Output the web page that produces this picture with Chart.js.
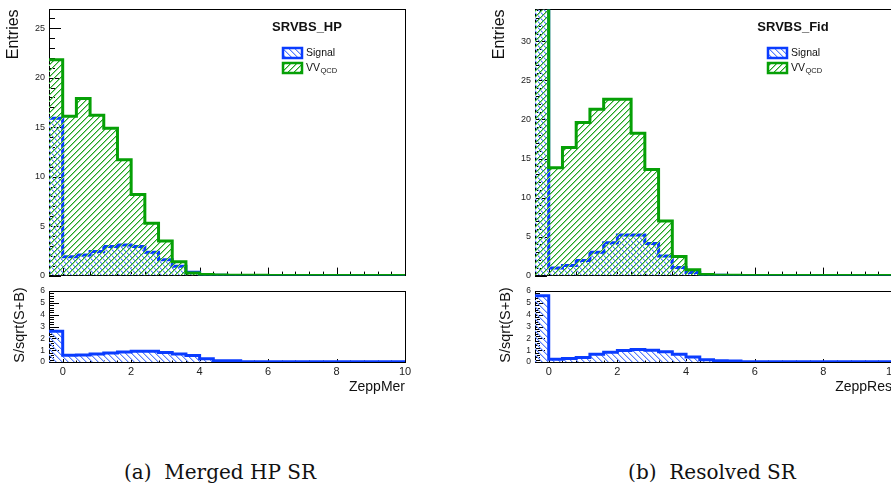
<!DOCTYPE html>
<html>
<head>
<meta charset="utf-8">
<script src="https://cdn.jsdelivr.net/npm/chart.js@4.4.0/dist/chart.umd.min.js"></script>
<style>
html, body { margin: 0; padding: 0; background: #fff; width: 891px; height: 488px; overflow: hidden; }
.pad { position: absolute; }
.caption { position: absolute; top: 460px; font-family: "DejaVu Serif", "Liberation Serif", serif; font-size: 20px; line-height: 24px; color: #111; white-space: pre; transform: translateX(-50%); }
</style>
</head>
<body>
<div class="pad" style="left:0;top:0"><canvas id="merMain" width="420" height="285"></canvas></div>
<div class="pad" style="left:0;top:282px"><canvas id="merRatio" width="420" height="118"></canvas></div>
<div class="pad" style="left:486px;top:0"><canvas id="resMain" width="420" height="285"></canvas></div>
<div class="pad" style="left:486px;top:282px"><canvas id="resRatio" width="420" height="118"></canvas></div>
<div class="caption" style="left:220px">(a)  Merged HP SR</div>
<div class="caption" style="left:712px">(b)  Resolved SR</div>
<script>
// bin edges (width 0.4) shared by every histogram
const binEdges = [-0.4, 0, 0.4, 0.8, 1.2, 1.6, 2, 2.4, 2.8, 3.2, 3.6, 4, 4.4, 4.8, 5.2, 5.6, 6, 6.4, 6.8, 7.2, 7.6, 8, 8.4, 8.8, 9.2, 9.6, 10]

// Merged HP SR
const sigMer = [15.9, 1.9, 2.07, 2.44, 2.94, 3.1, 2.94, 2.37, 1.6, 0.94, 0.33, 0.06, 0.03, 0.02, 0.01, 0.01, 0.01, 0, 0, 0, 0, 0, 0, 0, 0, 0]
const vvMer = [21.8, 16.1, 17.9, 16.2, 14.9, 11.7, 8.2, 5.3, 3.5, 1.4, 0.27, 0.1, 0.05, 0.04, 0.03, 0.03, 0.02, 0.02, 0.02, 0.01, 0.01, 0.01, 0.01, 0.01, 0.01, 0.01]
const ratioMer = [2.6, 0.57, 0.6, 0.68, 0.77, 0.85, 0.9, 0.9, 0.8, 0.68, 0.54, 0.27, 0.1, 0.1, 0.02, 0.02, 0.02, 0.02, 0.02, 0.02, 0.02, 0.02, 0.02, 0.02, 0.02, 0.02]

// Resolved SR (first bin goes above the frame)
const sigRes = [60, 0.97, 1.3, 1.95, 3.0, 4.2, 5.2, 5.2, 4.1, 2.5, 1.05, 0.4, 0.1, 0.03, 0.02, 0.01, 0, 0, 0, 0, 0, 0, 0, 0, 0, 0]
const vvRes = [58, 13.8, 16.4, 19.6, 21.3, 22.6, 22.6, 18.25, 13.6, 7.0, 2.45, 0.76, 0.13, 0.05, 0.03, 0.02, 0.02, 0.01, 0.01, 0.01, 0.01, 0.01, 0.01, 0.01, 0.01, 0.01]
const ratioRes = [5.6, 0.23, 0.3, 0.38, 0.65, 0.83, 0.97, 1.06, 1.0, 0.86, 0.65, 0.42, 0.2, 0.1, 0.08, 0.02, 0.02, 0.02, 0.02, 0.02, 0.02, 0.02, 0.02, 0.02, 0.02, 0.02]

const FONT = '"Liberation Sans", Arial, sans-serif'
const BLUE = '#0a3cff'
const GREEN = '#06a006'
// hatch colours: [core pixel, soft neighbour]
const BLUE_HATCH = ['#5a80ff', '#b8c8ff']
const GREEN_HATCH = ['#1fa51f', '#98d498']

function steps(vals){
    // one point per left edge, plus the closing right edge
    const pts = vals.map((v, i) => ({x: binEdges[i], y: v}))
    pts.push({x: binEdges[binEdges.length - 1], y: vals[vals.length - 1]})
    return pts
}

// two-pixel diagonal hatch, "/" or "\"
function hatch(ctx, colors, dir){
    const s = 6
    const c = document.createElement("canvas")
    c.width = s; c.height = s
    const g = c.getContext("2d")
    for (let i = 0; i < s; i++) {
        const y = dir === "/" ? s - 1 - i : i
        g.fillStyle = colors[1]
        g.fillRect((i + 1) % s, y, 1, 1)
        g.fillStyle = colors[0]
        g.fillRect(i, y, 1, 1)
    }
    return ctx.createPattern(c, "repeat")
}

// ROOT-like frame with inside tick marks
const rootFrame = {
    id: "rootFrame",
    beforeDatasetsDraw(chart, args, o){
        const {ctx, chartArea: a, scales: {x, y}} = chart
        ctx.save()
        ctx.strokeStyle = "#000"
        ctx.lineWidth = 1
        ctx.beginPath()
        let n = Math.round((x.max - x.min) / o.xMinor)
        for (let i = 0; i <= n; i++) {
            const v = x.min + i * o.xMinor
            const major = Math.abs(v / o.xMajor - Math.round(v / o.xMajor)) < 1e-6
            const px = Math.round(x.getPixelForValue(v)) + 0.5
            ctx.moveTo(px, a.bottom)
            ctx.lineTo(px, a.bottom - (major ? o.xMajLen : o.xMinLen))
        }
        n = Math.floor(y.max / o.yMinor + 1e-6)
        for (let i = 0; i <= n; i++) {
            const v = i * o.yMinor
            const major = Math.abs(v / o.yMajor - Math.round(v / o.yMajor)) < 1e-6
            const py = Math.round(y.getPixelForValue(v)) + 0.5
            ctx.moveTo(a.left, py)
            ctx.lineTo(a.left + (major ? o.yMajLen : o.yMinLen), py)
        }
        ctx.stroke()
        ctx.strokeRect(Math.round(a.left) + 0.5, Math.round(a.top) + 0.5, Math.round(a.right - a.left), Math.round(a.bottom - a.top))
        ctx.restore()
    },
    afterDraw(chart, args, o){
        // rotated y title drawn here when it is longer than the pad height
        if (!o.sideTitle) return
        const ctx = chart.ctx
        ctx.save()
        ctx.translate(o.sideTitle.x, o.sideTitle.y)
        ctx.rotate(-Math.PI / 2)
        ctx.fillStyle = "#111"
        ctx.font = o.sideTitle.size + "px " + FONT
        ctx.textAlign = "center"
        ctx.textBaseline = "middle"
        ctx.fillText(o.sideTitle.text, 0, 0)
        ctx.restore()
    }
}

// title and legend drawn as in the ROOT canvas
const rootLegend = {
    id: "rootLegend",
    afterDraw(chart, args, o){
        if (!o || !o.title) return
        const ctx = chart.ctx
        ctx.save()
        ctx.fillStyle = "#111"
        ctx.textAlign = "center"
        ctx.textBaseline = "middle"
        ctx.font = "bold 13px " + FONT
        ctx.fillText(o.title, o.titleX, 27)
        o.items.forEach((it, i) => {
            const by = 48 + i * 15
            ctx.fillStyle = "#fff"
            ctx.fillRect(o.boxX, by, 19, 10)
            ctx.fillStyle = hatch(ctx, it.hatchColor, it.dir)
            ctx.fillRect(o.boxX, by, 19, 10)
            ctx.strokeStyle = it.color
            ctx.lineWidth = 2.5
            ctx.strokeRect(o.boxX, by, 19, 10)
            ctx.fillStyle = "#111"
            ctx.textAlign = "left"
            ctx.font = "10.5px " + FONT
            ctx.fillText(it.text, o.boxX + 23, by + 5)
            if (it.sub) {
                const w = ctx.measureText(it.text).width
                ctx.font = "7.5px " + FONT
                ctx.fillText(it.sub, o.boxX + 23 + w + 0.5, by + 8)
            }
        })
        ctx.restore()
    }
}

function histDataset(ctx, label, vals, color, hatchColor, dir){
    return {
        label: label,
        data: steps(vals),
        borderColor: color,
        borderWidth: 3,
        backgroundColor: hatch(ctx, hatchColor, dir),
        fill: "origin",
        stepped: "before",
        pointRadius: 0
    }
}

function makeChart(id, datasets, cfg){
    return new Chart(document.getElementById(id), {
        type: "line",
        data: {datasets: datasets},
        plugins: [rootFrame, rootLegend],
        options: {
            responsive: false,
            animation: false,
            devicePixelRatio: 1,
            layout: {padding: {left: 0, top: cfg.padTop, right: cfg.padRight, bottom: 0}},
            scales: {
                x: {
                    type: "linear",
                    min: -0.4,
                    max: 10,
                    afterFit: s => { s.height = cfg.xHeight },
                    grid: {display: false, drawTicks: false},
                    border: {display: false},
                    ticks: {
                        display: cfg.xLabels,
                        stepSize: 2,
                        includeBounds: false,
                        padding: 3,
                        color: "#222",
                        font: {family: FONT, size: 11}
                    },
                    title: {
                        display: !!cfg.xTitle,
                        text: cfg.xTitle,
                        align: "end",
                        color: "#111",
                        padding: {top: 0, bottom: 4},
                        font: {family: FONT, size: 14}
                    }
                },
                y: {
                    type: "linear",
                    min: 0,
                    max: cfg.yMax,
                    afterFit: s => { s.width = 49 },
                    grid: {display: false, drawTicks: false},
                    border: {display: false},
                    ticks: {
                        stepSize: cfg.yStep,
                        includeBounds: false,
                        autoSkip: false,
                        padding: 4,
                        color: "#222",
                        font: {family: FONT, size: cfg.yFont}
                    },
                    title: {
                        display: !!cfg.yTitle,
                        text: cfg.yTitle,
                        align: "end",
                        color: "#111",
                        padding: {top: 3.5, bottom: 0},
                        font: {family: FONT, size: 16}
                    }
                }
            },
            plugins: {
                legend: {display: false},
                title: {display: false},
                tooltip: {enabled: false},
                rootFrame: cfg.frame,
                rootLegend: cfg.legend
            }
        }
    })
}

const mainFrame = {xMajor: 2, xMinor: 0.4, xMajLen: 8, xMinLen: 4, yMajor: 5, yMinor: 1, yMajLen: 12, yMinLen: 6}
const ratioFrame = {xMajor: 2, xMinor: 0.4, xMajLen: 3, xMinLen: 1.5, yMajor: 1, yMinor: 0.2, yMajLen: 10, yMinLen: 5,
    sideTitle: {text: "S/sqrt(S+B)", x: 20, y: 43, size: 14.5}}

function legendItems(){
    return [
        {text: "Signal", color: BLUE, hatchColor: BLUE_HATCH, dir: "\\"},
        {text: "VV", sub: "QCD", color: GREEN, hatchColor: GREEN_HATCH, dir: "/"}
    ]
}

function panel(prefix, sig, vv, ratio, cfg){
    const mainCtx = document.getElementById(prefix + "Main").getContext("2d")
    makeChart(prefix + "Main", [
        histDataset(mainCtx, "VV_QCD", vv, GREEN, GREEN_HATCH, "/"),
        histDataset(mainCtx, "Signal", sig, BLUE, BLUE_HATCH, "\\")
    ], {
        padTop: 7, padRight: cfg.padRight, xHeight: 9, xLabels: false,
        yMax: cfg.yMax, yStep: 5, yFont: 9, yTitle: "Entries",
        frame: mainFrame,
        legend: {title: cfg.title, titleX: cfg.titleX, boxX: cfg.boxX, items: legendItems()}
    })

    const ratioCtx = document.getElementById(prefix + "Ratio").getContext("2d")
    makeChart(prefix + "Ratio", [
        histDataset(ratioCtx, "S/sqrt(S+B)", ratio, BLUE, BLUE_HATCH, "\\")
    ], {
        padTop: 9, padRight: cfg.padRight, xHeight: 38, xLabels: true, xTitle: cfg.xTitle,
        yMax: 6, yStep: 1, yFont: 8.5, yTitle: "",
        frame: ratioFrame,
        legend: null
    })
}

panel("mer", sigMer, vvMer, ratioMer, {padRight: 15, yMax: 26.9, xTitle: "ZeppMer", title: "SRVBS_HP", titleX: 307, boxX: 283})
panel("res", sigRes, vvRes, ratioRes, {padRight: 14, yMax: 34.1, xTitle: "ZeppRes", title: "SRVBS_Fid", titleX: 307, boxX: 282})
</script>
</body>
</html>
